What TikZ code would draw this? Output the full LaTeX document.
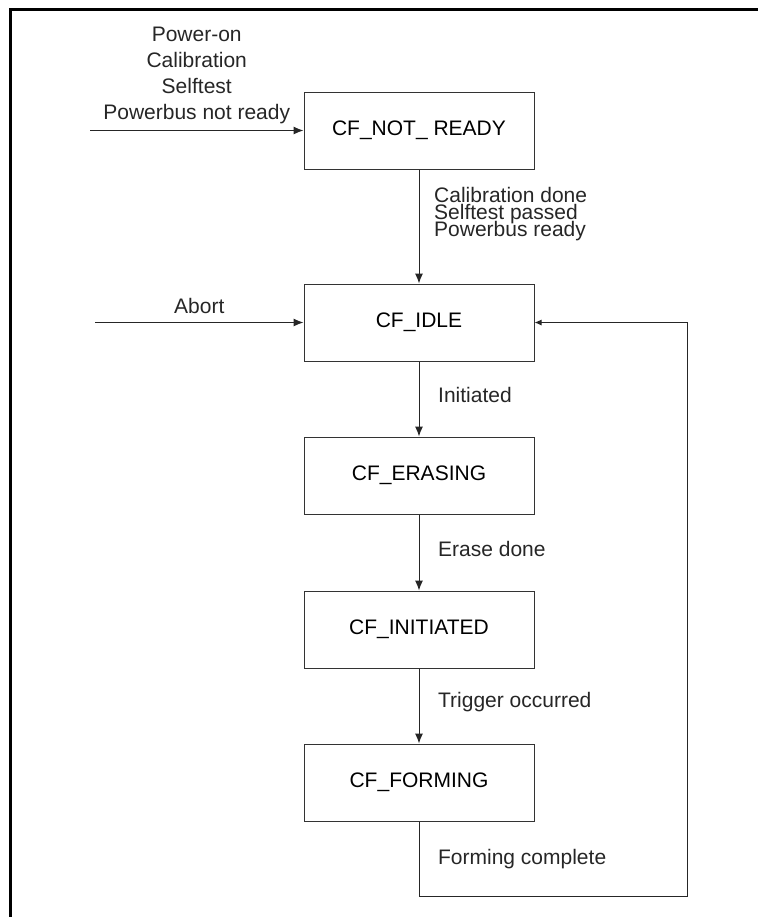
\documentclass[tikz,border=0pt]{standalone}
\usepackage{fontspec}
\setmainfont{Liberation Sans}
\usetikzlibrary{%
  arrows.meta,%
  calc%
}
\tikzset{>={Latex[length=5pt,width=4pt]}}
\lineskiplimit=-20pt
\tikzset{
  state/.style={draw=black!80,line width=0.5pt,minimum width=115pt,
    minimum height=38.5pt,inner sep=0pt},
  flow/.style={->,line width=0.5pt,black!85},
  tight/.style={align=left,font=\fontsize{10.5}{8.5}\selectfont}
}

\begin{document}
\begin{tikzpicture}[x=0.5pt,y=-0.5pt,font=\fontsize{10.5}{13}\selectfont]
    \useasboundingbox (0,0) rectangle (758,917);
    % frame
    \draw[line width=1.5pt] (10,917) -- (10,9) -- (758,9);
    % states
    \node[state] (notready) at (419,130.5) {CF\_NOT\_ READY};
    \node[state] (idle) at (419,322.5) {CF\_IDLE};
    \node[state] (erasing) at (419,475.5) {CF\_ERASING};
    \node[state] (initiated) at (419,629.5) {CF\_INITIATED};
    \node[state] (forming) at (419,782.5) {CF\_FORMING};
    \coordinate (pwrin) at (90,130.5);
    \coordinate (abortin) at (95,322.5);
    \coordinate (loopa) at (687,896);
    % transitions
    \draw[flow] (pwrin) -- (notready) node[midway,above,align=center,
    inner sep=3pt] {Power-on\\Calibration\\Selftest\\Powerbus not ready};
    \draw[flow] (abortin) -- (idle) node[midway,above,inner sep=4pt]
    {Abort};
    \draw[flow] (notready) -- (idle) node[midway,right=4pt,yshift=6pt,tight]
    {Calibration done\\Selftest passed\\Powerbus ready};
    \draw[flow] (idle) -- (erasing) node[midway,right=6pt,yshift=2pt]
    {Initiated};
    \draw[flow] (erasing) -- (initiated) node[midway,right=6pt,yshift=2pt]
    {Erase done};
    \draw[flow] (initiated) -- (forming) node[midway,right=6pt,yshift=2pt]
    {Trigger occurred};
    \draw[flow,-{Latex[length=3.5pt,width=3pt]}] (forming) |- (loopa)
    node[pos=0.25,right=6pt] {Forming complete} |- (idle);
  \end{tikzpicture}
\end{document}
